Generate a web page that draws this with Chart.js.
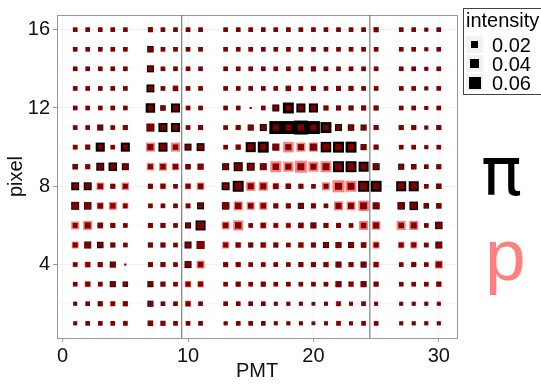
<!DOCTYPE html>
<html>
<head>
<meta charset="utf-8">
<script src="https://cdn.jsdelivr.net/npm/chart.js@4/dist/chart.umd.min.js"></script>
<style>
  body { margin: 0; background: #fff; }
  #wrap { position: relative; width: 541px; height: 385px; overflow: hidden; font-family: "Liberation Sans", Arial, sans-serif; }
  #legend { position: absolute; left: 463px; top: 8px; width: 90px; height: 85px; border: 1px solid #444; background: #fff; }
  #legend .title { position: absolute; left: 2px; top: 0px; font-size: 20px; line-height: 22px; color: #000; }
  #legend .key { position: absolute; left: 2px; width: 17px; height: 17px; background: #f2f2f2; }
  #legend .key div { position: absolute; background: #000; }
  #legend .lab { position: absolute; left: 28px; font-size: 20px; line-height: 20px; color: #000; }
  .big { position: absolute; }
</style>
</head>
<body>
<div id="wrap">
  <canvas id="chart" width="541" height="385"></canvas>
  <div id="legend"></div>
  <div class="big" id="piLabel" style="left:481px; top:138px; color:#000; font-family:'DejaVu Sans'; font-size:68px; line-height:68px;">π</div>
  <div class="big" id="pLabel" style="left:485px; top:218px; color:#ff8080; font-size:73px; line-height:73px;">p</div>
</div>
<script>
// PMT columns (6, 12 and 26 have no data) and pixel rows
const pmt = [1,2,3,4,5,7,8,9,10,11,13,14,15,16,17,18,19,20,21,22,23,24,25,27,28,29,30];
const pixels = [1,2,3,4,5,6,7,8,9,10,11,12,13,14,15,16];

// intensity for pi, one row per pixel (pixel 1 first), one value per PMT
const piIntensity = [
  [.006,.008,.008,.008,.008,.012,.010,.008,.008,.008,.006,.008,.008,.008,.006,.006,.006,.005,.006,.008,.006,.008,.008,.006,.006,.006,.006],
  [.006,.008,.010,.008,.010,.015,.008,.008,.010,.008,.008,.008,.008,.008,.006,.006,.006,.005,.006,.008,.006,.008,.006,.006,.006,.006,.006],
  [.008,.010,.008,.015,.012,.015,.010,.008,.010,.010,.008,.010,.008,.010,.008,.008,.008,.008,.008,.015,.010,.015,.010,.008,.008,.008,.010],
  [.008,.010,.010,.015,.001,.010,.010,.008,.020,.012,.010,.010,.008,.008,.008,.008,.010,.010,.010,.015,.010,.015,.010,.008,.010,.008,.015],
  [.010,.020,.017,.010,.008,.010,.010,.008,.020,.026,.010,.010,.010,.010,.010,.008,.010,.010,.015,.015,.015,.012,.010,.010,.010,.008,.020],
  [.010,.015,.012,.010,.008,.010,.010,.008,.015,.042,.012,.017,.008,.010,.008,.008,.012,.015,.010,.010,.008,.012,.015,.012,.015,.008,.023],
  [.026,.023,.012,.012,.008,.008,.008,.008,.008,.020,.023,.017,.012,.012,.010,.010,.015,.010,.008,.015,.015,.020,.020,.023,.030,.012,.012],
  [.026,.026,.012,.010,.010,.010,.010,.008,.010,.012,.026,.050,.015,.015,.012,.012,.010,.008,.010,.020,.020,.050,.050,.042,.042,.008,.012],
  [.012,.010,.026,.030,.020,.010,.012,.012,.012,.015,.020,.034,.026,.020,.017,.015,.020,.015,.020,.050,.050,.042,.020,.015,.012,.008,.010],
  [.008,.010,.034,.008,.034,.015,.034,.012,.020,.026,.008,.010,.042,.050,.020,.015,.015,.020,.046,.050,.050,.015,.010,.008,.008,.006,.008],
  [.008,.008,.015,.008,.010,.026,.034,.034,.008,.010,.008,.010,.015,.020,.070,.070,.082,.070,.050,.020,.017,.015,.010,.010,.010,.006,.010],
  [.008,.008,.008,.008,.008,.037,.012,.034,.008,.008,.008,.008,.001,.008,.020,.050,.034,.034,.010,.010,.010,.010,.010,.008,.008,.006,.008],
  [.008,.008,.008,.008,.008,.026,.008,.012,.008,.008,.008,.008,.008,.008,.008,.012,.008,.010,.008,.010,.010,.008,.008,.008,.008,.006,.008],
  [.008,.008,.008,.008,.008,.020,.008,.008,.008,.008,.008,.008,.008,.008,.008,.008,.008,.010,.008,.008,.008,.008,.008,.008,.008,.006,.008],
  [.008,.008,.008,.008,.008,.017,.008,.008,.008,.008,.008,.008,.008,.008,.008,.008,.008,.008,.008,.008,.008,.008,.008,.008,.008,.006,.008],
  [.008,.008,.008,.008,.008,.010,.008,.008,.008,.008,.008,.008,.008,.008,.008,.008,.008,.008,.008,.008,.008,.008,.010,.008,.008,.006,.008]
];

// intensity for p, same layout
const pIntensity = [
  [.006,.008,.008,.008,.010,.012,.010,.008,.008,.008,.006,.008,.008,.008,.006,.006,.006,.005,.006,.010,.006,.008,.008,.006,.006,.006,.006],
  [.006,.008,.010,.012,.010,.010,.008,.008,.015,.008,.008,.008,.008,.008,.006,.006,.006,.005,.006,.012,.006,.010,.006,.006,.006,.006,.006],
  [.008,.015,.010,.010,.008,.010,.010,.008,.017,.017,.008,.010,.008,.010,.008,.008,.008,.008,.008,.015,.012,.012,.010,.008,.008,.008,.012],
  [.010,.015,.012,.010,.001,.010,.010,.008,.012,.026,.010,.010,.008,.010,.008,.008,.010,.010,.012,.010,.010,.010,.015,.008,.010,.008,.026],
  [.020,.017,.010,.010,.008,.010,.010,.008,.012,.026,.020,.015,.010,.015,.010,.008,.015,.010,.010,.015,.012,.012,.020,.017,.020,.010,.015],
  [.026,.034,.015,.010,.008,.010,.010,.008,.008,.020,.026,.042,.008,.017,.012,.012,.012,.010,.010,.010,.008,.034,.030,.034,.034,.008,.015],
  [.020,.017,.020,.026,.015,.008,.008,.008,.012,.010,.020,.034,.026,.026,.010,.010,.010,.010,.008,.034,.032,.046,.017,.015,.015,.008,.010],
  [.012,.012,.023,.010,.023,.010,.015,.008,.015,.023,.012,.020,.034,.034,.017,.012,.010,.008,.026,.060,.050,.020,.015,.017,.017,.008,.010],
  [.010,.010,.012,.012,.012,.023,.026,.020,.010,.015,.012,.015,.015,.017,.050,.042,.060,.042,.050,.020,.020,.015,.012,.010,.010,.008,.010],
  [.010,.010,.010,.008,.010,.034,.015,.034,.010,.010,.008,.012,.015,.015,.020,.046,.034,.034,.020,.017,.017,.012,.010,.008,.008,.006,.008],
  [.008,.008,.010,.008,.010,.023,.012,.012,.008,.010,.008,.010,.012,.010,.015,.015,.017,.015,.012,.010,.010,.010,.010,.010,.010,.006,.010],
  [.008,.008,.008,.008,.008,.012,.010,.012,.008,.008,.008,.008,.001,.008,.010,.012,.012,.012,.010,.010,.010,.010,.010,.008,.008,.006,.008],
  [.008,.008,.008,.008,.008,.010,.008,.010,.008,.008,.008,.008,.008,.008,.008,.010,.008,.010,.008,.010,.010,.008,.008,.008,.008,.006,.008],
  [.008,.008,.008,.008,.008,.010,.008,.008,.008,.008,.008,.008,.008,.008,.008,.008,.008,.010,.008,.008,.008,.008,.008,.008,.008,.006,.008],
  [.008,.008,.008,.008,.008,.010,.008,.008,.008,.008,.008,.008,.008,.008,.008,.008,.008,.008,.008,.008,.008,.008,.008,.008,.008,.006,.008],
  [.008,.008,.008,.008,.008,.010,.008,.008,.008,.008,.008,.008,.008,.008,.008,.008,.008,.008,.008,.008,.008,.008,.010,.008,.008,.006,.008]
];

// boundaries drawn as vertical lines
const boundaries = [9.5, 24.5];

const xMajor = [0, 10, 20, 30];
const xMinor = [5, 15, 25];
const yMajor = [4, 8, 12, 16];
const yMinor = [2, 6, 10, 14];
const legendValues = [0.02, 0.04, 0.06];

const X_MIN = -0.45, X_MAX = 31.45, Y_MIN = 0.25, Y_MAX = 16.75;

// area scale: side of the square in px
function sideFor(v) {
    return Math.sqrt(1.5 + 2375 * v);
}

function cells(values) {
    var out = [];
    for (var r = 0; r < pixels.length; r++)
        for (var c = 0; c < pmt.length; c++)
            out.push({x: pmt[c], y: pixels[r], v: values[r][c]});
    return out;
}

function squareRadius(ctx) {
    if (!ctx.raw) return 0;
    return sideFor(ctx.raw.v) / Math.SQRT2;
}

var datasets = [];
boundaries.forEach(function(b) {
    datasets.push({
        type: 'line',
        data: [{x: b, y: Y_MIN}, {x: b, y: Y_MAX}],
        borderColor: '#666',
        borderWidth: 1,
        pointRadius: 0,
        order: 0
    });
});
datasets.push({
    label: 'p',
    data: cells(pIntensity),
    pointStyle: 'rect',
    pointRadius: squareRadius,
    pointBackgroundColor: 'rgba(255,0,0,0.5)',
    pointBorderWidth: 0,
    order: 1
});
datasets.push({
    label: 'pi',
    data: cells(piIntensity),
    pointStyle: 'rect',
    pointRadius: squareRadius,
    pointBackgroundColor: '#000',
    pointBorderWidth: 0,
    order: 2
});

function setTicks(major, minor) {
    return function(scale) {
        scale.ticks = major.concat(minor).sort(function(a, b) { return a - b; })
            .map(function(v) { return {value: v}; });
    };
}

function gridColor(major) {
    return function(c) {
        return major.includes(c.tick && c.tick.value) ? 'rgba(0,0,0,0.05)' : 'rgba(0,0,0,0.025)';
    };
}
function tickMarkColor(major) {
    return function(c) {
        return major.includes(c.tick && c.tick.value) ? '#999' : 'rgba(0,0,0,0)';
    };
}

const FONT = '"Liberation Sans", Arial, sans-serif';

new Chart(document.getElementById('chart'), {
    type: 'scatter',
    data: { datasets: datasets },
    options: {
        responsive: false,
        animation: false,
        events: [],
        layout: { padding: { top: 6, right: 84, left: 0, bottom: 0 } },
        plugins: { legend: { display: false }, tooltip: { enabled: false } },
        scales: {
            x: {
                type: 'linear', position: 'bottom', min: X_MIN, max: X_MAX,
                afterBuildTicks: setTicks(xMajor, xMinor),
                afterFit: function(s) { s.height = 47; },
                ticks: {
                    font: { family: FONT, size: 20 }, color: '#111', padding: 2, maxRotation: 0,
                    callback: function(v) { return xMajor.includes(v) ? String(v) : ''; }
                },
                grid: { color: gridColor(xMajor), tickLength: 4, tickColor: tickMarkColor(xMajor) },
                border: { color: '#999' },
                title: { display: true, text: 'PMT', font: { family: FONT, size: 20 }, color: '#111', padding: { top: 0, bottom: 2 } }
            },
            y: {
                type: 'linear', position: 'left', min: Y_MIN, max: Y_MAX,
                afterBuildTicks: setTicks(yMajor, yMinor),
                afterFit: function(s) { s.width = 57; },
                ticks: {
                    font: { family: FONT, size: 20 }, color: '#111', padding: 3,
                    callback: function(v) { return yMajor.includes(v) ? String(v) : ''; }
                },
                grid: { color: gridColor(yMajor), tickLength: 4, tickColor: tickMarkColor(yMajor) },
                border: { color: '#999' },
                title: { display: true, text: 'pixel', font: { family: FONT, size: 20 }, color: '#111', padding: { top: 4, bottom: 0 } }
            },
            x2: {
                type: 'linear', position: 'top', min: X_MIN, max: X_MAX,
                afterFit: function(s) { s.height = 0; },
                ticks: { display: false },
                grid: { display: false, drawTicks: false },
                border: { color: '#999' }
            },
            y2: {
                type: 'linear', position: 'right', min: Y_MIN, max: Y_MAX,
                afterFit: function(s) { s.width = 0; },
                ticks: { display: false },
                grid: { display: false, drawTicks: false },
                border: { color: '#999' }
            }
        }
    }
});

// size legend
var legend = document.getElementById('legend');
legend.innerHTML = '<div class="title">intensity</div>';
legendValues.forEach(function(v, i) {
    var top = 27 + i * 19;
    var s = sideFor(v);
    var key = document.createElement('div');
    key.className = 'key';
    key.style.top = top + 'px';
    var sq = document.createElement('div');
    sq.style.width = s + 'px';
    sq.style.height = s + 'px';
    sq.style.left = (17 - s) / 2 + 'px';
    sq.style.top = (17 - s) / 2 + 'px';
    key.appendChild(sq);
    legend.appendChild(key);
    var lab = document.createElement('div');
    lab.className = 'lab';
    lab.style.top = (top - 1) + 'px';
    lab.textContent = v.toFixed(2);
    legend.appendChild(lab);
});
</script>
</body>
</html>
